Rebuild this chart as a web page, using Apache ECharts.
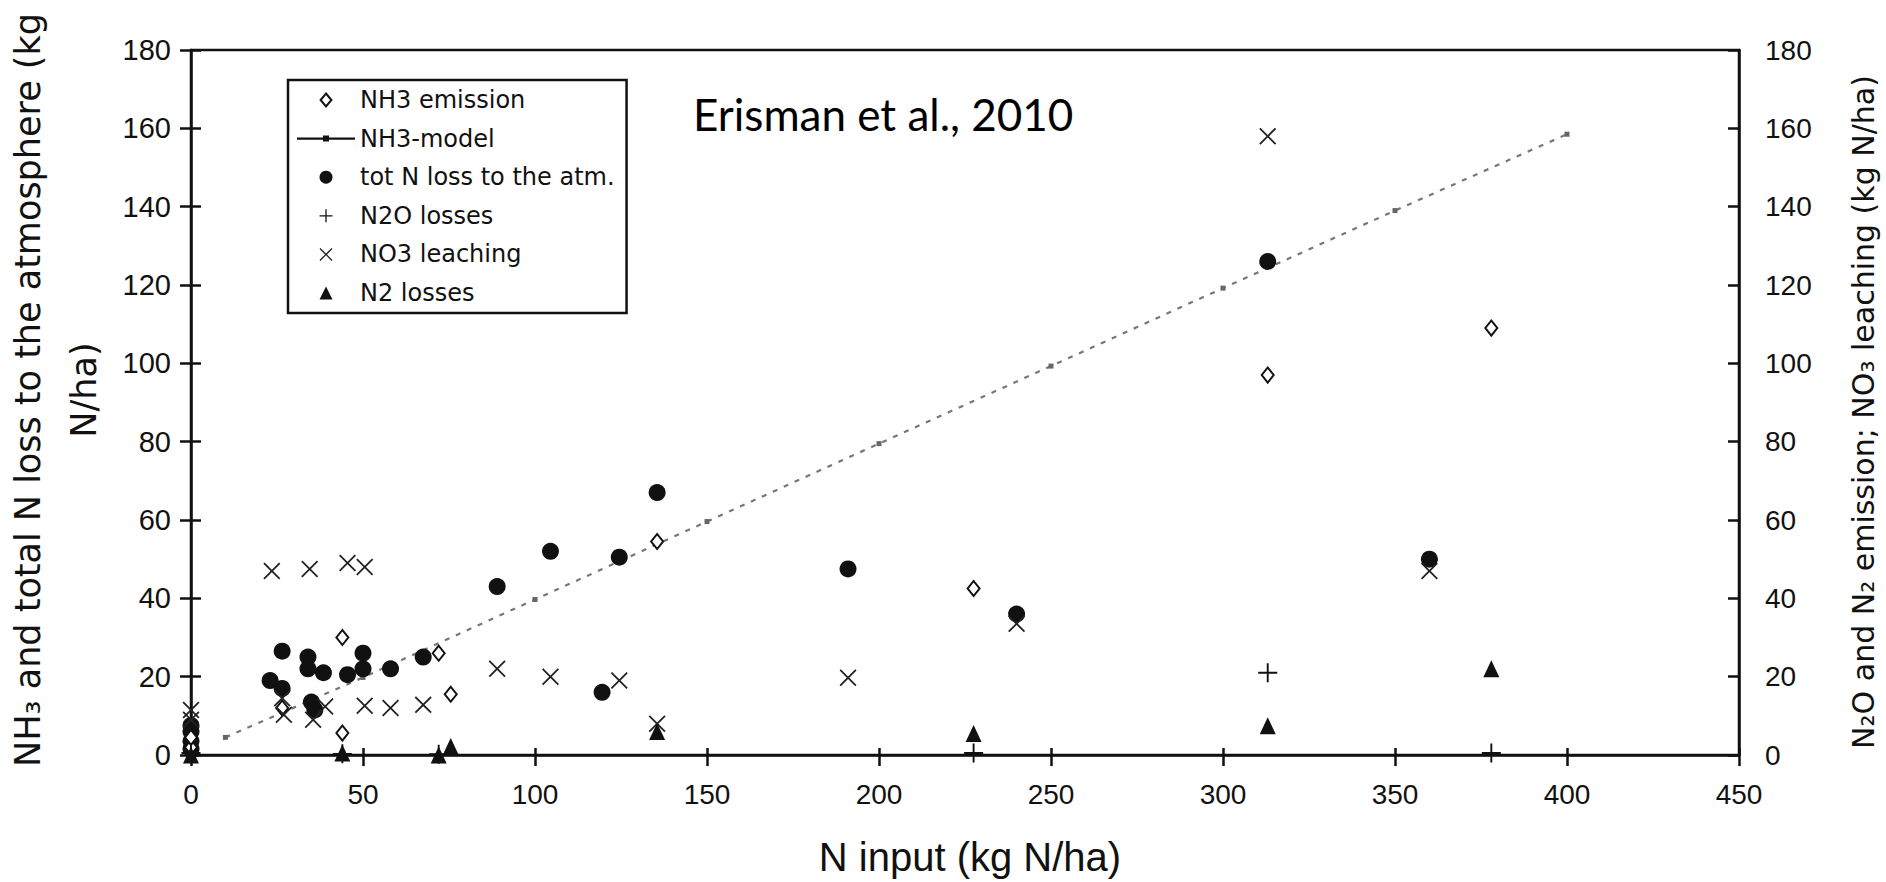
<!DOCTYPE html>
<html><head><meta charset="utf-8">
<script src="https://cdn.jsdelivr.net/npm/echarts@6/dist/echarts.min.js"></script>
<style>html,body{margin:0;padding:0;background:#fff;}#c{width:1886px;height:882px;}</style>
</head><body><div id="c"></div>
<script>
// ---- data (x = N input kg N/ha, y = kg N/ha) ----
const xTicks = [0, 50, 100, 150, 200, 250, 300, 350, 400, 450];
const yTicks = [0, 20, 40, 60, 80, 100, 120, 140, 160, 180];
const seriesNames = ['NH3 emission', 'NH3-model', 'tot N loss to the atm.', 'N2O losses', 'NO3 leaching', 'N2 losses'];
const nh3Emission = [[0,2],[0,4.5],[26.5,12],[44,30],[44,5.6],[72,26],[75.5,15.5],[135.5,54.5],[227.5,42.5],[313,97],[378,109]];
const nh3ModelX = [10, 50, 100, 150, 200, 250, 300, 350, 400];
const nh3ModelY = [4.5, 19.8, 39.7, 59.6, 79.5, 99.3, 119.2, 139, 158.5];
const totNLoss = [[0,1.5],[0,3.5],[0,6],[0,7.5],[23,19],[26.5,26.5],[26.5,17],[34,25],[34,22],[35,13.5],[36,11.5],[38.5,21],[45.5,20.5],[50,26],[50,22],[58,22],[67.5,25],[89,43],[104.5,52],[119.5,16],[124.5,50.5],[135.5,67],[191,47.5],[240,36],[313,126],[360,50]];
const n2oLosses = [[0,0.5],[44,0.3],[72,0.2],[227.5,0.5],[313,21],[378,0.5]];
const no3Leaching = [[0,11.5],[0,9],[23.5,47],[26.5,14.5],[27,10.3],[34.5,47.5],[35.5,9],[39,12.4],[45.5,49],[50.5,48],[50.5,12.6],[58,12],[67.5,12.8],[89,22],[104.5,20],[124.5,19],[135.5,8],[191,19.7],[240,33.5],[313,158],[360,47]];
const n2Losses = [[0,0],[44,0.5],[72,0],[75.5,2.2],[135.5,6],[227.5,5.5],[313,7.5],[378,22]];

const FONT = "'DejaVu Sans', 'Liberation Sans', sans-serif";
const ARIAL = "'Liberation Sans', Arial, sans-serif";
const INK = '#111';
const PLUS = 'path://M9,0H11V9H20V11H11V20H9V11H0V9H9Z';
const CROSS = 'path://M0,1.5L1.5,0L10,8.5L18.5,0L20,1.5L11.5,10L20,18.5L18.5,20L10,11.5L1.5,20L0,18.5L8.5,10Z';
const DIAMOND_ICON = 'path://M5,0L10,6L5,12L0,6Z';
const TRIANGLE_ICON = 'path://M6,0L12,12L0,12Z';
const MODEL_ICON = 'path://M0,6H58V8.4H0Z M26,4.2H32V10.2H26Z';

const chart = echarts.init(document.getElementById('c'), null, {renderer: 'svg'});

const baseAxis = {
  type: 'value', min: xTicks[0], max: xTicks[xTicks.length - 1], interval: xTicks[1] - xTicks[0],
  splitLine: {show: false}
};
const baseY = {
  type: 'value', min: yTicks[0], max: yTicks[yTicks.length - 1], interval: yTicks[1] - yTicks[0],
  splitLine: {show: false}
};
const lineSt = {color: INK, width: 2.5};
const labelSt = {color: INK, fontFamily: ARIAL, fontSize: 28};

chart.setOption({
  animation: false,
  backgroundColor: '#fff',
  grid: {left: 191, right: 147, top: 50, bottom: 127, show: true, borderColor: INK, borderWidth: 2.5, backgroundColor: 'transparent'},
  xAxis: [
    Object.assign({}, baseAxis, {position: 'bottom', axisLine: {show: true, onZero: false, lineStyle: lineSt},
      axisTick: {show: true, inside: false, length: 11, lineStyle: lineSt},
      axisLabel: Object.assign({margin: 25}, labelSt)}),
    Object.assign({}, baseAxis, {position: 'bottom', axisLine: {show: false},
      axisTick: {show: true, inside: true, length: 7, lineStyle: lineSt}, axisLabel: {show: false}})
  ],
  yAxis: [
    Object.assign({}, baseY, {position: 'left', axisLine: {show: true, onZero: false, lineStyle: lineSt},
      axisTick: {show: true, inside: false, length: 11, lineStyle: lineSt},
      axisLabel: Object.assign({}, labelSt, {margin: 20, fontSize: 29})}),
    Object.assign({}, baseY, {position: 'right', axisLine: {show: true, onZero: false, lineStyle: lineSt},
      axisTick: {show: true, inside: true, length: 11, lineStyle: lineSt},
      axisLabel: Object.assign({margin: 26}, labelSt)}),
    Object.assign({}, baseY, {position: 'left', axisLine: {show: false},
      axisTick: {show: true, inside: true, length: 10, lineStyle: lineSt}, axisLabel: {show: false}})
  ],
  legend: {
    orient: 'vertical', left: 288, top: 80, padding: [8, 12, 8, 9], itemGap: 14.6,
    itemWidth: 58, itemHeight: 13, borderColor: INK, borderWidth: 2.5, backgroundColor: '#fff',
    textStyle: {fontFamily: FONT, fontSize: 24, color: INK, lineHeight: 24},
    data: [
      {name: seriesNames[0], icon: DIAMOND_ICON},
      {name: seriesNames[1], icon: MODEL_ICON, itemStyle: {color: INK}},
      {name: seriesNames[2], icon: 'circle'},
      {name: seriesNames[3]},
      {name: seriesNames[4]},
      {name: seriesNames[5], icon: TRIANGLE_ICON}
    ]
  },
  series: [
    {name: seriesNames[1], type: 'line', data: nh3ModelX.map((x, i) => [x, nh3ModelY[i]]),
      symbol: 'rect', symbolSize: 5, showSymbol: true, z: 1,
      lineStyle: {color: '#777', width: 2.2, type: [5, 7]}, itemStyle: {color: '#666'}},
    {name: seriesNames[0], type: 'scatter', data: nh3Emission, symbol: 'diamond', symbolSize: [12, 15], z: 3,
      itemStyle: {color: '#fff', borderColor: INK, borderWidth: 2, opacity: 1}},
    {name: seriesNames[2], type: 'scatter', data: totNLoss, symbol: 'circle', symbolSize: 17, z: 2,
      itemStyle: {color: INK, opacity: 1}},
    {name: seriesNames[3], type: 'scatter', yAxisIndex: 1, data: n2oLosses, symbol: PLUS, symbolSize: 19, z: 4,
      itemStyle: {color: INK, opacity: 1}},
    {name: seriesNames[4], type: 'scatter', yAxisIndex: 1, data: no3Leaching, symbol: CROSS, symbolSize: 17, z: 4,
      itemStyle: {color: '#222', opacity: 1}},
    {name: seriesNames[5], type: 'scatter', yAxisIndex: 1, data: n2Losses, symbol: 'triangle', symbolSize: [16, 17], z: 4,
      itemStyle: {color: INK, opacity: 1}}
  ],
  graphic: [
    {type: 'text', x: 693, y: 114, z: 10,
      style: {text: 'Erisman et al., 2010', fontFamily: "Lato, 'Open Sans', sans-serif", fontSize: 44, fill: '#000',
        align: 'left', verticalAlign: 'middle', textAlign: 'left', textVerticalAlign: 'middle'}},
    {type: 'text', x: 56, y: 390, rotation: Math.PI / 2, z: 10,
      style: {text: 'NH\u2083 and total N loss to the atmosphere (kg\nN/ha)', fontFamily: FONT, fontSize: 35, lineHeight: 56, fill: INK,
        align: 'center', verticalAlign: 'middle', textAlign: 'center', textVerticalAlign: 'middle'}},
    {type: 'text', x: 1863, y: 412, rotation: Math.PI / 2, z: 10,
      style: {text: 'N\u2082O and N\u2082 emission; NO\u2083 leaching (kg N/ha)', fontFamily: FONT, fontSize: 30, fill: INK,
        align: 'center', verticalAlign: 'middle', textAlign: 'center', textVerticalAlign: 'middle'}},
    {type: 'text', x: 970, y: 857, z: 10,
      style: {text: 'N input (kg N/ha)', fontFamily: ARIAL, fontSize: 40, fill: INK,
        align: 'center', verticalAlign: 'middle', textAlign: 'center', textVerticalAlign: 'middle'}}
  ]
});
</script></body></html>
